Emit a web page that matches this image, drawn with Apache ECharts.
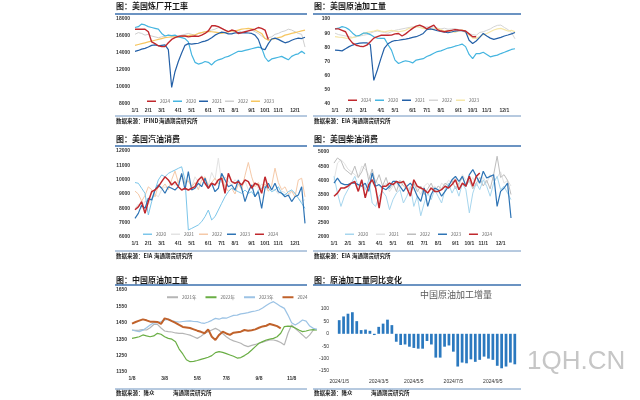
<!DOCTYPE html>
<html><head><meta charset="utf-8">
<script src="https://cdn.jsdelivr.net/npm/echarts@6/dist/echarts.min.js"></script>
<style>html,body{margin:0;padding:0;background:#fff}#wrap{position:relative;width:640px;height:400px}
#c,#c2{position:absolute;left:0;top:0;width:640px;height:400px}</style>
</head><body><div id="wrap"><div id="c"></div><div id="c2"></div></div><script>
// ---------- tick labels ----------
const monthLabels = ['1/1','2/1','3/1','4/1','5/1','6/1','7/1','8/1','9/1','10/1','11/1','12/1'];
const monthIdx = [0,4,8,13,17,22,26,30,35,39,43,48];
const cnLabels = ['1/8','3/8','5/8','7/8','9/8','11/8'];
const cnIdx = [0,9,18,26,35,44];
const yoyLabels = ['2024/1/5','2024/3/5','2024/5/5','2024/7/5','2024/9/5'];
const yoyIdx = [0,9,17,26,35];

// ---------- panel 1: US refinery (IFIND) ----------
const p1_2024 = [16800,16800,16800,16800,16500,15300,15100,14850,14750,14750,15200,15600,15800,15950,16000,16000,15900,15950,16000,15950,16100,16300,16600,17200,17200,17100,16900,16700,16500,16700,16600,16300,16400,16500,16600,16700,16800,17000,16900,16700,15600];
const p1_2020 = [17000,17100,17400,17300,17100,17000,16900,16800,16300,16000,16100,16050,16100,15900,15800,15700,15300,13800,12900,12700,12800,13000,12900,12600,13000,13200,13300,13500,13600,13800,14000,14200,14200,14300,14400,14500,14600,14700,14600,13500,13000,13300,13400,13500,13600,13400,13200,13600,13800,13900,14200,13900];
const p1_2021 = [14200,14300,14450,14550,14700,14900,14950,14850,14900,14950,14400,9950,11800,13000,14000,14900,15100,15050,15100,15150,15300,15400,15550,15800,16100,16300,16450,16400,16250,16250,16350,16400,16350,16400,16350,16300,16100,15600,14500,14400,15100,15650,15750,15600,15400,15200,15300,15500,15650,15750,15700,15850];
const p1_2022 = [16200,16400,16300,16100,16200,16000,15900,15800,15900,16000,16100,16000,15900,16000,16100,16200,16300,16200,16100,16300,16400,16500,16600,16700,16800,17000,16900,16700,16600,16500,16400,16600,16500,16400,16600,16700,16500,16300,16000,15700,15800,15900,16200,16300,16500,16600,16800,16700,16500,16300,16200,14700];
const p1_2023 = [14900,15000,15100,15200,15300,15400,15500,15600,15700,15800,15850,15900,15900,15850,15900,16000,16050,16100,16150,16300,16400,16500,16550,16500,16450,16400,16300,16400,16500,16600,16600,16700,16800,16850,16900,16850,16700,16500,16300,15700,15500,15600,15700,15800,15900,16100,16200,16300,16400,16500,16600,16700];

// ---------- panel 2: US crude runs (EIA) ----------
const p2_2024 = [93,93,92,91,86,83,81.5,80.8,80.5,81.5,84,86.5,87.5,88.5,88.6,88.5,88.6,89.5,89.8,88,89.5,91.5,93.4,95,95.7,94.6,93,94.5,95.7,92.5,91.5,91,91.5,92,92.5,92.2,92,91.5,89.5,87.5,87.5];
const p2_2020 = [93,93.5,94.6,94,92.5,90,88,88.5,90,90,89,87.5,86.5,86.3,86.3,82,78,71,68.6,69.7,70.5,70,69,71,71.5,72,73.5,74.5,75.8,77,77.5,78.5,79.5,80,80.8,81.5,82.3,80.5,75,72,75.5,75.6,76.5,75,73.3,74,74.5,75.6,76.5,77.5,78.5,79];
const p2_2021 = [78,77.8,77.5,79,80.5,81.6,82.5,83,83.2,83.2,82,56.7,64,72,79.5,82.5,84,84.8,85,85.5,85.8,86.3,87,87.5,88.5,89.8,92.5,93,92.5,91.7,91.2,90.8,90.3,90.8,91.5,91.7,91.7,91.2,85,82.7,84.5,87,89.8,88,86.5,85.6,86.3,87,88,88.7,89.5,90.5];
const p2_2022 = [90,89,88.5,88,87.5,87,87.5,88,88.5,89,90,91,91.5,91,90.5,90,91,92,92.5,93,93.5,94,94.5,94.5,95,94,94.5,94,94.5,93.5,93,93.5,92.8,93,93.2,92.5,91.5,90.5,89.5,89,88.5,90.5,91,92,93,94.5,95.5,95.7,94,92.5,90.5,86];
const p2_2023 = [87.5,87.2,87,86.5,86.3,86.8,87.5,88.5,89.8,90.5,91,91.5,92.2,91.5,91,91.5,92,91.5,91,91.5,92,93.4,94,94.6,94,93.4,93,92.5,93,93.4,92.5,91.5,91.8,91,90.5,91.5,92.5,90.5,88.6,86.5,86.3,87.5,89,89.8,91,92.2,93,93.4,92.5,91.5,92,91];

// ---------- panel 3: US gasoline demand ----------
const p3_2020 = [9800,9750,9400,9050,7540,8470,9280,9980,10330,10200,10440,10560,10670,10790,10900,9980,6490,6600,6720,6840,7070,7420,7880,7190,7420,7880,8350,8810,9160,9400,9280,9160,9050,9280,9050,9160,8810,9280,9400,9510,9400,9160,9280,9510,9050,8930,9160,9280,9050,8700,8350,8000];
const p3_2021 = [8000,8300,8000,8500,8300,8700,9000,8800,9300,9500,9400,9800,9600,9900,10100,9800,10000,9500,10200,9800,10300,9900,9600,10500,10000,11500,9800,10200,9900,9600,10000,9700,9500,9900,9300,9600,9800,9400,9700,9500,9200,9400,9300,9000,9200,9100,8800,9200,9000,8700,8500,8600];
const p3_2022 = [9200,9000,8500,8900,9500,9300,8800,9600,9400,9700,9300,10000,10600,9800,10400,9700,9900,9500,9800,9300,10000,10200,9600,9800,10100,9700,10300,9500,9200,9400,9000,9700,9300,10300,11200,10200,9500,9800,9300,9700,9200,9600,10800,9800,9300,9500,9000,9200,8800,9980,10100,8800];
const p3_2023 = [7300,7650,8230,8000,8700,8580,9280,9630,9400,9050,9510,9400,9280,9510,10440,9280,10560,9280,9400,9750,9510,10100,9400,9750,9160,9400,10440,9980,9510,9630,9280,9980,9400,8470,9160,9630,8810,9160,8000,9400,9750,9280,9750,9160,9050,8810,8930,8470,8810,8930,9510,6950];
const p3_2024 = [7900,8100,8470,7650,8470,9160,9280,9510,9860,10200,9980,9630,9860,9510,9280,9400,9280,9400,9510,9980,10200,9750,9400,9750,9630,9980,10100,9050,10440,9860,9750,9860,9630,9980,9860,9400,9750,9630,9050,10200,9400];

// ---------- panel 4: US diesel demand ----------
const p4_2020 = [4140,3550,3080,3440,3670,3900,4140,3790,4020,3670,4020,3200,3080,3440,3610,3440,2960,3320,3550,3670,3200,3440,3790,3080,3440,2750,3200,3550,3320,3670,3440,3200,3670,3900,3550,3790,3440,3900,3670,2850,3550,3900,3670,4020,3790,3440,3900,4140,3670,3790,3550,3320];
const p4_2021 = [4000,4610,4730,4600,4400,4300,4200,4100,4500,4400,4200,3900,4000,3800,3700,3900,3600,3800,3900,3700,4000,3800,3600,3900,3700,3500,3800,3900,3700,3800,3600,3900,3800,4000,3900,4100,3800,4200,4000,3900,4100,3800,4000,4100,3900,4200,4000,4100,4300,3900,4000,3800];
const p4_2022 = [4610,4790,4700,4400,4300,4200,4500,4100,4300,4600,4000,4400,3900,4200,3800,4100,3700,3900,3600,4000,3800,3700,3500,3900,3600,3800,3500,3700,3900,3600,3800,3700,3900,3800,4000,3700,3900,4100,3800,4000,3700,3900,4100,3800,4000,3700,4200,4850,4100,4200,4000,3500];
const p4_2023 = [3900,4080,3900,3850,3850,3900,3900,3850,3790,3900,3610,4260,3790,3850,3730,3670,3790,3960,3960,3790,3610,3790,3900,3730,3440,3260,3730,3080,3500,3730,3670,3440,3610,3790,4020,4140,3960,4140,3790,4200,4380,4140,3900,4320,4080,4140,4200,3080,3610,3730,3900,2670];
const p4_2024 = [3440,3550,3730,3730,3790,3900,3960,3610,4020,3380,3850,4020,3730,3020,3790,3790,3900,3850,3960,3910,3960,3730,3440,4020,3790,3730,3670,3550,3730,3610,3610,3670,3790,3730,3850,4020,3670,3900,3790,4140,3790,4140,4260];

// ---------- panel 5: China crude runs (Longzhong) ----------
const p5_2021 = [1406,1404,1405,1408,1406,1420,1440,1440,1418,1400,1396,1394,1388,1386,1385,1380,1375,1365,1355,1368,1385,1396,1406,1416,1405,1385,1365,1350,1340,1333,1325,1312,1305,1312,1318,1325,1332,1340,1345,1345,1340,1330,1315,1386,1437,1415,1396,1376,1355,1376,1406,1410];
const p5_2022 = [1355,1360,1365,1376,1370,1365,1370,1386,1380,1365,1355,1350,1335,1290,1260,1225,1213,1215,1220,1227,1233,1240,1250,1268,1274,1270,1262,1254,1246,1235,1238,1250,1264,1284,1305,1325,1335,1345,1350,1355,1365,1386,1427,1430,1428,1418,1406,1396,1400,1406,1408,1406];
const p5_2023 = [1406,1400,1396,1405,1420,1437,1451,1450,1458,1467,1471,1462,1457,1455,1458,1460,1462,1458,1457,1450,1447,1455,1465,1477,1472,1480,1478,1487,1495,1497,1504,1508,1512,1518,1522,1528,1540,1555,1569,1579,1565,1550,1538,1497,1450,1437,1450,1467,1460,1430,1416,1410];
const p5_2024 = [1445,1455,1463,1471,1465,1457,1457,1455,1443,1477,1471,1460,1450,1437,1425,1422,1418,1410,1402,1395,1386,1410,1365,1345,1376,1396,1385,1376,1390,1393,1396,1406,1402,1405,1410,1420,1428,1432,1443,1437,1430,1416];

// ---------- panel 6: China crude runs YoY change ----------
const p6_yoy = [55,70,81,87,51,15,17,12,-5,28,41,57,35,-32,-45,-43,-52,-57,-60,-60,-29,-43,-96,-96,-52,-47,-72,-132,-116,-119,-103,-113,-105,-92,-100,-105,-129,-139,-132,-116,-123];

// ---------- build ----------
const weekCats = Array.from({length:52}, (_, i) => 'w' + i);
const yoyCats = p6_yoy.map((_, i) => 'b' + i);
const FONT = 'Liberation Sans';
const CJK = 'Noto Sans CJK SC';

function pickLabel(idxArr, labels) {
  return (v, i) => { const k = idxArr.indexOf(i); return k >= 0 ? labels[k] : ''; };
}
function xAx(gi, idxArr, labels, cats, gap) {
  return {type:'category', gridIndex:gi, data:cats, boundaryGap:!!gap, position:'bottom',
    axisLine:{show:false, onZero:false}, axisTick:{show:false}, splitLine:{show:false},
    axisLabel:{interval:0, hideOverlap:false, formatter:pickLabel(idxArr, labels), fontSize:5, color:'#333', fontFamily:FONT, margin:4, fontWeight:'bold'}};
}
function yAx(gi, min, max, iv) {
  return {type:'value', gridIndex:gi, min:min, max:max, interval:iv, position:'left',
    axisLine:{show:false, onZero:false}, axisTick:{show:false}, splitLine:{show:false},
    axisLabel:{fontSize:5, color:'#333', fontFamily:FONT, margin:5, fontWeight:'bold', hideOverlap:false,
      showMinLabel:true, showMaxLabel:true, formatter:v => String(v)}};
}
function ln(name, p, data, color, w, z) {
  return {type:'line', name:name + '|' + p, xAxisIndex:p, yAxisIndex:p, data:data,
    symbol:'none', lineStyle:{color:color, width:w}, itemStyle:{color:color}, z:z||2};
}
function lg(p, names, left, top, gap, iw, ih) {
  return {left:left, top:top, itemWidth:iw||9, itemHeight:ih||1.5, itemGap:gap, icon:'rect', padding:0,
    data:names.map(n => n + '|' + p), formatter:n => n.split('|')[0], selectedMode:false,
    textStyle:{fontSize:4.5, color:'#666', fontFamily:CJK, padding:[0,0,0,-1]}};
}

const C = {red:'#C0282D', cyan:'#45B5E0', dblue:'#2460A7', lgrey:'#CFCFCF', yellow:'#F6C660',
  blue:'#2E74B5', vlgrey:'#E3E3E3', peach:'#F5C9A8', lcyan:'#A7D6EE', grey:'#BDBDBD',
  green:'#6AAE45', lblue:'#9CC3E5', brown:'#C0622B', bar:'#2B79BF'};

const grids = [
  {left:135, top:19, width:170, height:85},
  {left:335, top:19, width:180, height:85},
  {left:135, top:151, width:170, height:86},
  {left:334, top:152, width:177, height:85},
  {left:132, top:290, width:185, height:82}
];

const series = [
  ln('2022',0,p1_2022,C.lgrey,1), ln('2023',0,p1_2023,C.yellow,1.2), ln('2020',0,p1_2020,C.cyan,1.2),
  ln('2021',0,p1_2021,C.dblue,1.2), ln('2024',0,p1_2024,C.red,1.4,5),
  ln('2022',1,p2_2022,'#D5D5D5',1), ln('2023',1,p2_2023,'#F5E6A8',1.2), ln('2020',1,p2_2020,C.cyan,1.2),
  ln('2021',1,p2_2021,C.dblue,1.2), ln('2024',1,p2_2024,C.red,1.4,5),
  ln('2021',2,p3_2021,C.vlgrey,1), ln('2022',2,p3_2022,C.peach,1), ln('2020',2,p3_2020,'#7CC6EA',1),
  ln('2023',2,p3_2023,C.blue,1.2), ln('2024',2,p3_2024,C.red,1.5,5),
  ln('2021',3,p4_2021,C.vlgrey,1), ln('2022',3,p4_2022,C.grey,1), ln('2020',3,p4_2020,C.lcyan,1),
  ln('2023',3,p4_2023,C.blue,1.2), ln('2024',3,p4_2024,C.red,1.5,5),
  ln('2021年',4,p5_2021,'#B5B5B5',1.2), ln('2022年',4,p5_2022,C.green,1.2), ln('2023年',4,p5_2023,C.lblue,1.2),
  ln('2024',4,p5_2024,C.brown,2,5)
];

const titles = [
  {t:'图：美国炼厂开工率', l:116, top:2}, {t:'图：美国原油加工量', l:314, top:2},
  {t:'图：美国汽油消费', l:116, top:135}, {t:'图：美国柴油消费', l:314, top:135},
  {t:'图：中国原油加工量', l:116, top:276}, {t:'图：原油加工量同比变化', l:314, top:276}
];
const srcs = [
  {a:'数据来源：IFIND', b:'海通期货研究所', l:116, bx:159, y:122},
  {a:'数据来源：EIA', b:'海通期货研究所', l:314, bx:352, y:122},
  {a:'数据来源：EIA', b:'海通期货研究所', l:116, bx:154, y:257},
  {a:'数据来源：EIA', b:'海通期货研究所', l:314, bx:352, y:257},
  {a:'数据来源：隆众', b:'海通期货研究所', l:116, bx:173, y:394},
  {a:'数据来源：隆众', b:'海通期货研究所', l:314, bx:371, y:394}
];
const rules = [
  {x1:115,x2:307,y:14,w:1.5,c:'#3A6FAE'}, {x1:313,x2:521,y:14,w:1.5,c:'#3A6FAE'},
  {x1:115,x2:307,y:116,w:0.8,c:'#4A78B0'}, {x1:313,x2:521,y:116,w:0.8,c:'#4A78B0'},
  {x1:115,x2:307,y:146,w:1.5,c:'#3A6FAE'}, {x1:313,x2:521,y:146,w:1.5,c:'#3A6FAE'},
  {x1:115,x2:307,y:251,w:0.8,c:'#4A78B0'}, {x1:313,x2:521,y:251,w:0.8,c:'#4A78B0'},
  {x1:115,x2:307,y:285,w:1.5,c:'#3A6FAE'}, {x1:313,x2:521,y:285,w:1.5,c:'#3A6FAE'},
  {x1:115,x2:307,y:389,w:0.8,c:'#4A78B0'}, {x1:313,x2:521,y:389,w:0.8,c:'#4A78B0'}
];

const graphic = [];
titles.forEach(o => graphic.push({type:'text', left:o.l, top:o.top, z:10,
  style:{text:o.t, fill:'#1a1a1a', font:'bold 8px "Noto Sans CJK SC"'}}));
srcs.forEach(o => {
  graphic.push({type:'text', left:o.l, top:o.y-4, style:{text:o.a, fill:'#222', font:'bold 5.5px "Noto Sans CJK SC"'}});
  graphic.push({type:'text', left:o.bx, top:o.y-4, style:{text:o.b, fill:'#222', font:'bold 5.5px "Noto Sans CJK SC"'}});
});
rules.forEach(r => graphic.push({type:'line', shape:{x1:r.x1,y1:r.y,x2:r.x2,y2:r.y}, style:{stroke:r.c, lineWidth:r.w}}));
graphic.push({type:'text', left:527, top:349, z:20, style:{text:'1QH.CN', fill:'#C6C6C6', font:'26px "Liberation Sans"'}});

const option = {
  animation:false, backgroundColor:'#fff',
  grid:grids,
  xAxis:[xAx(0,monthIdx,monthLabels,weekCats), xAx(1,monthIdx,monthLabels,weekCats),
         xAx(2,monthIdx,monthLabels,weekCats), xAx(3,monthIdx,monthLabels,weekCats),
         xAx(4,cnIdx,cnLabels,weekCats)],
  yAxis:[yAx(0,8000,18000,2000), yAx(1,40,100,10), yAx(2,6000,12000,1000),
         yAx(3,2000,5000,500), yAx(4,1150,1650,100)],
  legend:[
    lg(0,['2024','2020','2021','2022','2023'],147,99,3),
    lg(1,['2024','2020','2021','2022','2023'],348,98,4),
    lg(2,['2020','2021','2022','2023','2024'],143,232,5),
    lg(3,['2020','2021','2022','2023','2024'],345,232,8),
    lg(4,['2021年','2022年','2023年','2024'],167,295,9,11,2)
  ],
  series:series,
  graphic:graphic
};
const chart = echarts.init(document.getElementById('c'), null, {renderer:'canvas'});
chart.setOption(option);

// ---------- panel 6 (bar chart) in its own overlay instance ----------
const option2 = {
  animation:false,
  grid:[{left:337, top:309, width:180, height:62}],
  xAxis:[{type:'category', data:yoyCats, axisLine:{show:false, onZero:false}, axisTick:{show:false},
    axisLabel:{interval:0, fontSize:5, color:'#333', formatter:pickLabel(yoyIdx, yoyLabels)}}],
  yAxis:[{type:'value', min:-150, max:100, interval:50, splitLine:{show:false}, axisLine:{show:false},
    axisLabel:{fontSize:5, color:'#333', hideOverlap:false, formatter:v => String(v)}}],
  series:[{type:'bar', data:p6_yoy, barWidth:'62%', itemStyle:{color:C.bar}}],
  graphic:[{type:'text', left:420, top:290, style:{text:'中国原油加工增量', fill:'#5A5A5A', font:'9px "Noto Sans CJK SC"', textAlign:'center'}}]
};
const chart2 = echarts.init(document.getElementById('c2'), null, {renderer:'canvas'});
chart2.setOption(option2);
</script></body></html>
